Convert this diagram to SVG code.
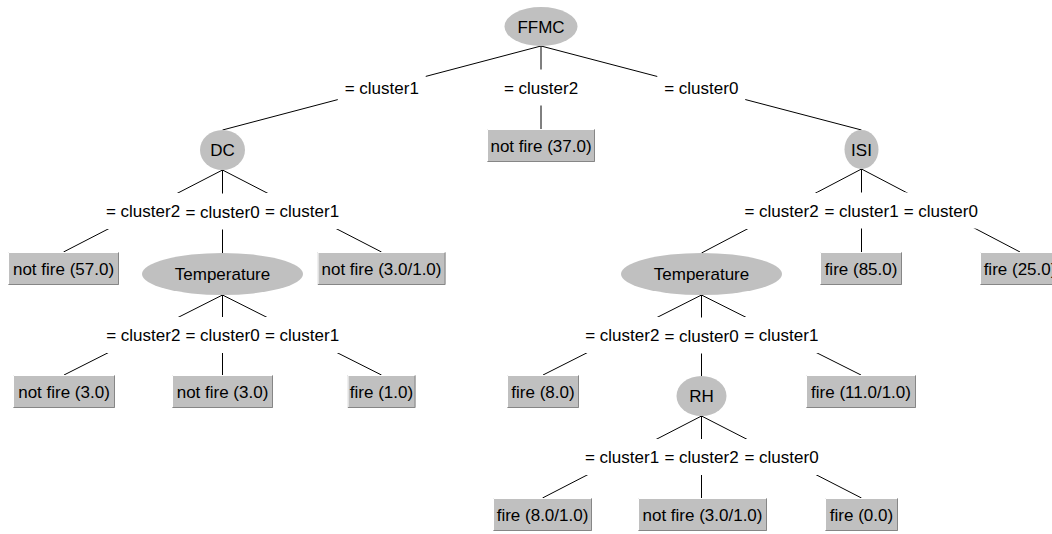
<svg xmlns="http://www.w3.org/2000/svg" width="1052" height="534" viewBox="0 0 1052 534">
<style>
  .bg{fill:#ffffff}
  .edge line{stroke:#000;stroke-width:1}
  .lbg{fill:#ffffff}
  .lbl{font-family:"Liberation Sans",Arial,sans-serif;font-size:17px;fill:#000;text-anchor:middle}
  .oval{fill:#c0c0c0}
  .box{fill:#c0c0c0}
  .hi{stroke:#ffffff;stroke-width:1;fill:none}
  .lo{stroke:#868686;stroke-width:1;fill:none}
  .t{font-family:"Liberation Sans",Arial,sans-serif;font-size:17px;fill:#000;text-anchor:middle}
</style>
<rect class="bg" x="0" y="0" width="1052" height="534"/>
<g id="connectors" class="edge">
  <line x1="541" y1="46" x2="222.5" y2="130"/>
  <line x1="541" y1="46" x2="541" y2="129"/>
  <line x1="541" y1="46" x2="861.5" y2="130"/>
  <line x1="222.5" y1="170" x2="63.5" y2="252"/>
  <line x1="222.5" y1="170" x2="222.5" y2="253"/>
  <line x1="222.5" y1="170" x2="381.5" y2="252"/>
  <line x1="861.5" y1="169" x2="701.5" y2="253"/>
  <line x1="861.5" y1="169" x2="861.5" y2="252"/>
  <line x1="861.5" y1="169" x2="1020" y2="252"/>
  <line x1="222.5" y1="295" x2="64" y2="375"/>
  <line x1="222.5" y1="295" x2="222.5" y2="375"/>
  <line x1="222.5" y1="295" x2="381.5" y2="375"/>
  <line x1="701.5" y1="295" x2="543" y2="375"/>
  <line x1="701.5" y1="295" x2="701.5" y2="376"/>
  <line x1="701.5" y1="295" x2="861" y2="375"/>
  <line x1="701.5" y1="416" x2="542.5" y2="498"/>
  <line x1="701.5" y1="416" x2="701.5" y2="498"/>
  <line x1="701.5" y1="416" x2="861.5" y2="498"/>
</g>
<g id="edge-label-backgrounds">
  <rect class="lbg" x="337.75" y="70" width="88" height="36"/>
  <rect class="lbg" x="497" y="69.5" width="88" height="36"/>
  <rect class="lbg" x="657.25" y="70" width="88" height="36"/>
  <rect class="lbg" x="99" y="193" width="88" height="36"/>
  <rect class="lbg" x="178.5" y="193.5" width="88" height="36"/>
  <rect class="lbg" x="258" y="193" width="88" height="36"/>
  <rect class="lbg" x="737.5" y="193" width="88" height="36"/>
  <rect class="lbg" x="817.5" y="192.5" width="88" height="36"/>
  <rect class="lbg" x="896.75" y="192.5" width="88" height="36"/>
  <rect class="lbg" x="99.25" y="317" width="88" height="36"/>
  <rect class="lbg" x="178.5" y="317" width="88" height="36"/>
  <rect class="lbg" x="258" y="317" width="88" height="36"/>
  <rect class="lbg" x="578.25" y="317" width="88" height="36"/>
  <rect class="lbg" x="657.5" y="317.5" width="88" height="36"/>
  <rect class="lbg" x="737.25" y="317" width="88" height="36"/>
  <rect class="lbg" x="578" y="439" width="88" height="36"/>
  <rect class="lbg" x="657.5" y="439" width="88" height="36"/>
  <rect class="lbg" x="737.5" y="439" width="88" height="36"/>
</g>
<g id="edge-labels">
  <text class="lbl" x="381.75" y="94">= cluster1</text>
  <text class="lbl" x="541" y="93.5">= cluster2</text>
  <text class="lbl" x="701.25" y="94">= cluster0</text>
  <text class="lbl" x="143" y="217">= cluster2</text>
  <text class="lbl" x="222.5" y="217.5">= cluster0</text>
  <text class="lbl" x="302" y="217">= cluster1</text>
  <text class="lbl" x="781.5" y="217">= cluster2</text>
  <text class="lbl" x="861.5" y="216.5">= cluster1</text>
  <text class="lbl" x="940.75" y="216.5">= cluster0</text>
  <text class="lbl" x="143.25" y="341">= cluster2</text>
  <text class="lbl" x="222.5" y="341">= cluster0</text>
  <text class="lbl" x="302" y="341">= cluster1</text>
  <text class="lbl" x="622.25" y="341">= cluster2</text>
  <text class="lbl" x="701.5" y="341.5">= cluster0</text>
  <text class="lbl" x="781.25" y="341">= cluster1</text>
  <text class="lbl" x="622" y="463">= cluster1</text>
  <text class="lbl" x="701.5" y="463">= cluster2</text>
  <text class="lbl" x="781.5" y="463">= cluster0</text>
</g>

<g id="n-ffmc"><ellipse class="oval" cx="541" cy="26.5" rx="36.5" ry="19.5"/><text class="t" x="541" y="32.5">FFMC</text></g>
<g id="n-dc"><ellipse class="oval" cx="222.5" cy="150" rx="22.5" ry="20"/><text class="t" x="222.5" y="156">DC</text></g>
<g id="n-isi"><ellipse class="oval" cx="861.5" cy="149.5" rx="17" ry="19.5"/><text class="t" x="861.5" y="155.5">ISI</text></g>
<g id="n-temp-left"><ellipse class="oval" cx="222.5" cy="274" rx="80.5" ry="21"/><text class="t" x="222.5" y="280">Temperature</text></g>
<g id="n-temp-right"><ellipse class="oval" cx="701.5" cy="274" rx="80.5" ry="21"/><text class="t" x="701.5" y="280">Temperature</text></g>
<g id="n-rh"><ellipse class="oval" cx="701.5" cy="396" rx="25" ry="20"/><text class="t" x="701.5" y="402">RH</text></g>

<g id="l-nf37"><rect class="box" x="487" y="129" width="108" height="33"/><path class="hi" d="M487.5,161.5V129.5H594.5"/><path class="lo" d="M487.5,161.5H594.5V129.5"/><text class="t" x="541" y="151.5">not fire (37.0)</text></g>
<g id="l-nf57"><rect class="box" x="8" y="252" width="111" height="33"/><path class="hi" d="M8.5,284.5V252.5H118.5"/><path class="lo" d="M8.5,284.5H118.5V252.5"/><text class="t" x="63.5" y="274.5">not fire (57.0)</text></g>
<g id="l-nf3-1-a"><rect class="box" x="317.5" y="252" width="128" height="33"/><path class="hi" d="M318,284.5V252.5H445"/><path class="lo" d="M318,284.5H445V252.5"/><text class="t" x="381.5" y="274.5">not fire (3.0/1.0)</text></g>
<g id="l-nf3-a"><rect class="box" x="13" y="375" width="102" height="33"/><path class="hi" d="M13.5,407.5V375.5H114.5"/><path class="lo" d="M13.5,407.5H114.5V375.5"/><text class="t" x="64" y="397.5">not fire (3.0)</text></g>
<g id="l-nf3-b"><rect class="box" x="172" y="375" width="101" height="33"/><path class="hi" d="M172.5,407.5V375.5H272.5"/><path class="lo" d="M172.5,407.5H272.5V375.5"/><text class="t" x="222.5" y="397.5">not fire (3.0)</text></g>
<g id="l-f1"><rect class="box" x="347.5" y="375" width="68" height="33"/><path class="hi" d="M348,407.5V375.5H415"/><path class="lo" d="M348,407.5H415V375.5"/><text class="t" x="381.5" y="397.5">fire (1.0)</text></g>
<g id="l-f85"><rect class="box" x="820" y="252" width="82" height="33"/><path class="hi" d="M820.5,284.5V252.5H901.5"/><path class="lo" d="M820.5,284.5H901.5V252.5"/><text class="t" x="861" y="274.5">fire (85.0)</text></g>
<g id="l-f25"><rect class="box" x="980" y="252" width="80" height="33"/><path class="hi" d="M980.5,284.5V252.5H1059.5"/><path class="lo" d="M980.5,284.5H1059.5V252.5"/><text class="t" x="1020" y="274.5">fire (25.0)</text></g>
<g id="l-f8"><rect class="box" x="507" y="375" width="72" height="33"/><path class="hi" d="M507.5,407.5V375.5H578.5"/><path class="lo" d="M507.5,407.5H578.5V375.5"/><text class="t" x="543" y="397.5">fire (8.0)</text></g>
<g id="l-f11"><rect class="box" x="806" y="375" width="110" height="33"/><path class="hi" d="M806.5,407.5V375.5H915.5"/><path class="lo" d="M806.5,407.5H915.5V375.5"/><text class="t" x="861" y="397.5">fire (11.0/1.0)</text></g>
<g id="l-f8-1"><rect class="box" x="493" y="498" width="99" height="33"/><path class="hi" d="M493.5,530.5V498.5H591.5"/><path class="lo" d="M493.5,530.5H591.5V498.5"/><text class="t" x="542.5" y="520.5">fire (8.0/1.0)</text></g>
<g id="l-nf3-1-b"><rect class="box" x="638" y="498" width="129" height="33"/><path class="hi" d="M638.5,530.5V498.5H766.5"/><path class="lo" d="M638.5,530.5H766.5V498.5"/><text class="t" x="702.5" y="520.5">not fire (3.0/1.0)</text></g>
<g id="l-f0"><rect class="box" x="825" y="498" width="73" height="33"/><path class="hi" d="M825.5,530.5V498.5H897.5"/><path class="lo" d="M825.5,530.5H897.5V498.5"/><text class="t" x="861.5" y="520.5">fire (0.0)</text></g>
</svg>
